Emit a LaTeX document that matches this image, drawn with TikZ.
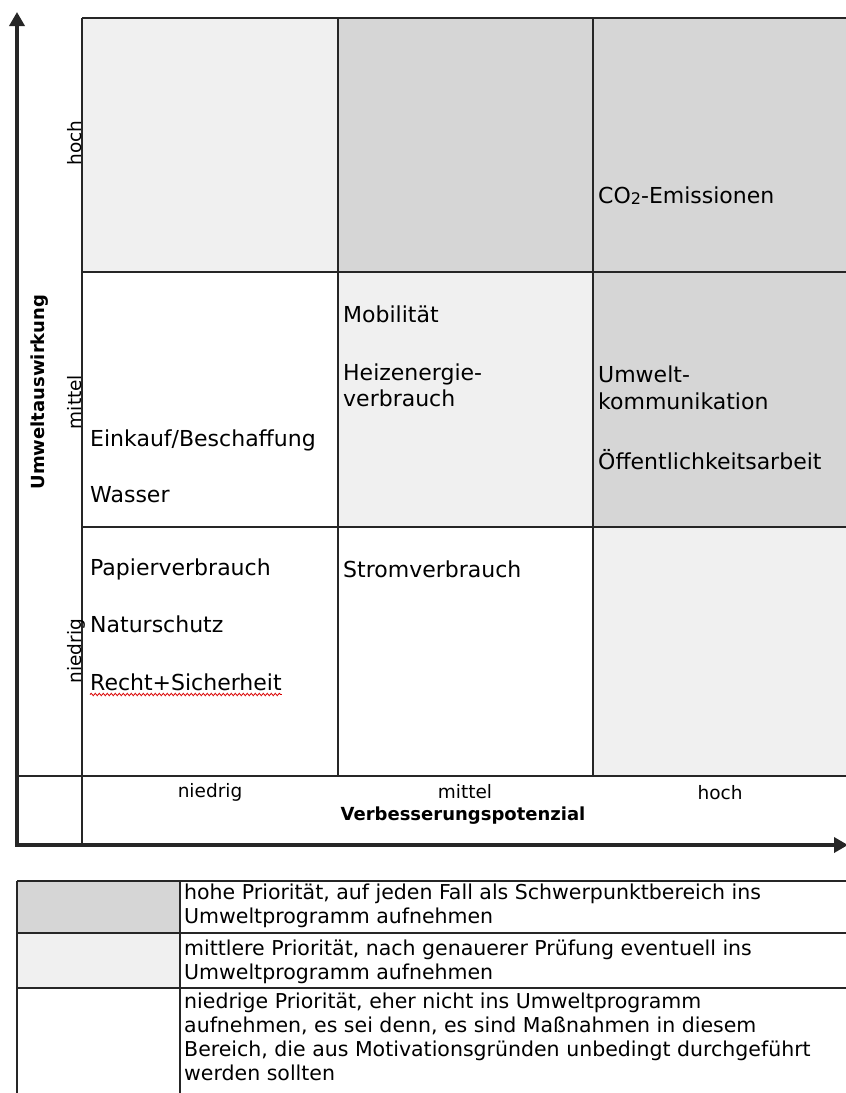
\documentclass[tikz,border=0pt]{standalone}
\usepackage{fontspec}
\setmainfont{DejaVu Sans}
\usetikzlibrary{arrows.meta,decorations.pathmorphing}
\definecolor{hiprio}{gray}{0.84}
\definecolor{midprio}{gray}{0.94}
\begin{document}
\begin{tikzpicture}[x=1pt,y=-1pt,
  gridline/.style={line width=1.6pt,black!85},
  axisline/.style={line width=4pt,black!85,-{Triangle[length=14pt,width=15pt]}},
  celltext/.style={anchor=base west,inner sep=0pt,font=\fontsize{22}{26}\selectfont},
  legtext/.style={anchor=base west,inner sep=0pt,font=\fontsize{20.5}{24}\selectfont},
  rowlab/.style={rotate=90,anchor=base,inner sep=0pt,font=\fontsize{18.5}{20}\selectfont},
  collab/.style={anchor=base,inner sep=0pt,font=\fontsize{18.5}{20}\selectfont},
  axtitle/.style={inner sep=0pt,font=\bfseries\fontsize{18}{22}\selectfont}
]
\useasboundingbox (0,0) rectangle (846,1093);

% cell shading
\fill[midprio] (82,18) rectangle (338,272);
\fill[hiprio] (338,18) rectangle (846,272);
\fill[midprio] (338,272) rectangle (593,527);
\fill[hiprio] (593,272) rectangle (846,527);
\fill[midprio] (593,527) rectangle (846,776);

% grid
\draw[gridline] (82,18) -- (846,18);
\draw[gridline] (82,272) -- (846,272);
\draw[gridline] (82,527) -- (846,527);
\draw[gridline] (17,776) -- (846,776);
\draw[gridline] (82,18) -- (82,845);
\draw[gridline] (338,18) -- (338,776);
\draw[gridline] (593,18) -- (593,776);

% axes
\coordinate (origin) at (17,845);
\coordinate (ytip) at (17,12);
\coordinate (xtip) at (848,845);
\draw[axisline] (origin) -- (ytip);
\draw[axisline] ([xshift=-2pt]origin) -- (xtip);

% row labels
\node[rowlab] (rhoch) at (81,143) {hoch};
\node[rowlab] (rmittel) at (81,402) {mittel};
\node[rowlab] (rniedrig) at (81,651) {niedrig};
\node[axtitle,rotate=90] (ytitle) at (40,392) {Umweltauswirkung};

% column labels
\node[collab] (cniedrig) at (210,797) {niedrig};
\node[collab] (cmittel) at (465,798) {mittel};
\node[collab] (choch) at (720,799) {hoch};
\node[axtitle,anchor=base] (xtitle) at (463,820) {Verbesserungspotenzial};

% cell texts
\node[celltext] (co2) at (598,203) {CO\raisebox{-0.15ex}{\fontsize{16}{16}\selectfont 2}-Emissionen};
\node[celltext] (mob) at (343,322) {Mobilität};
\node[celltext] (heiz1) at (343,380) {Heizenergie-};
\node[celltext] (heiz2) at (343,406) {verbrauch};
\node[celltext] (uk1) at (598,382) {Umwelt-};
\node[celltext] (uk2) at (598,409) {kommunikation};
\node[celltext] (oeff) at (598,469) {Öffentlichkeitsarbeit};
\node[celltext] (eink) at (90,446) {Einkauf/Beschaffung};
\node[celltext] (wass) at (90,502) {Wasser};
\node[celltext] (papier) at (90,575) {Papierverbrauch};
\node[celltext] (strom) at (343,577) {Stromverbrauch};
\node[celltext] (natur) at (90,632) {Naturschutz};
\node[celltext] (recht) at (90,690) {Recht+Sicherheit};
\draw[red!85!black,line width=0.8pt,decorate,decoration={snake,amplitude=1.2pt,segment length=4pt}]
  ([yshift=-4.5pt]recht.base west) -- ([yshift=-4.5pt]recht.base east);

% legend
\fill[hiprio] (17,881) rectangle (180,933);
\fill[midprio] (17,933) rectangle (180,988);
\draw[gridline] (17,881) -- (846,881);
\draw[gridline] (17,933) -- (846,933);
\draw[gridline] (17,988) -- (846,988);
\draw[gridline] (17,881) -- (17,1093);
\draw[gridline] (180,881) -- (180,1093);

\node[legtext] (l1a) at (184,899) {hohe Priorität, auf jeden Fall als Schwerpunktbereich ins};
\node[legtext] (l1b) at (184,923) {Umweltprogramm aufnehmen};
\node[legtext] (l2a) at (184,955) {mittlere Priorität, nach genauerer Prüfung eventuell ins};
\node[legtext] (l2b) at (184,979) {Umweltprogramm aufnehmen};
\node[legtext] (l3a) at (184,1008) {niedrige Priorität, eher nicht ins Umweltprogramm};
\node[legtext] (l3b) at (184,1032) {aufnehmen, es sei denn, es sind Maßnahmen in diesem};
\node[legtext] (l3c) at (184,1056) {Bereich, die aus Motivationsgründen unbedingt durchgeführt};
\node[legtext] (l3d) at (184,1080) {werden sollten};
\end{tikzpicture}
\end{document}
